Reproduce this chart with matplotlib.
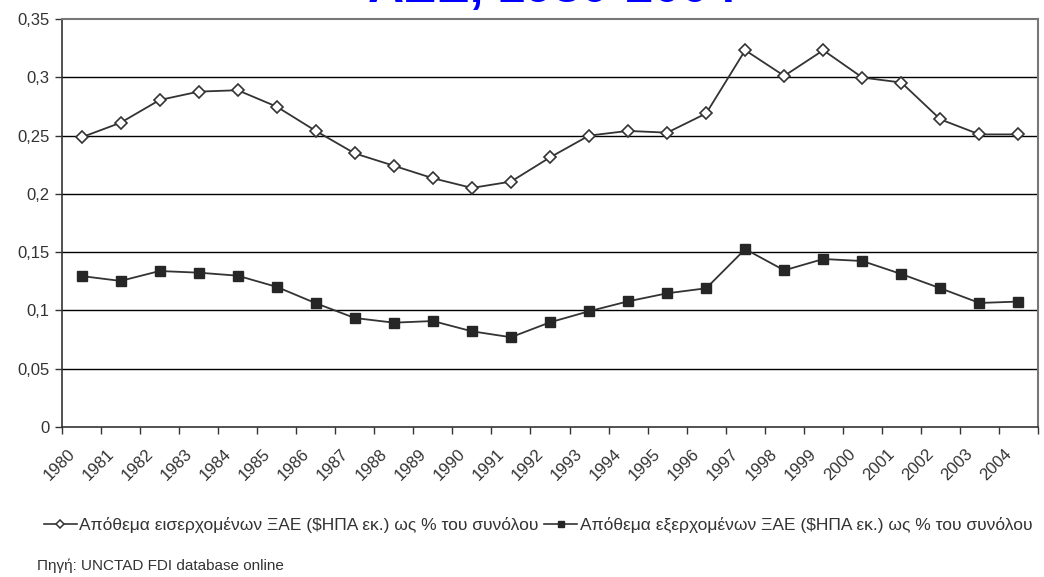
import matplotlib
matplotlib.use("Agg")
import matplotlib.pyplot as plt
from matplotlib.lines import Line2D
import matplotlib.transforms as mtransforms
import numpy as np

years = [str(y) for y in range(1980, 2005)]
inward = [0.2485, 0.261, 0.2805, 0.2877, 0.2889, 0.2748, 0.254, 0.2347, 0.2241,
          0.2134, 0.2051, 0.2105, 0.2313, 0.2500, 0.2540, 0.2525, 0.2690, 0.3232,
          0.3012, 0.3232, 0.2998, 0.2955, 0.2639, 0.2510, 0.2510]
outward = [0.1295, 0.1253, 0.1338, 0.1324, 0.1298, 0.1202, 0.1062, 0.0935, 0.0895,
           0.0909, 0.0821, 0.0770, 0.0898, 0.0993, 0.1078, 0.1147, 0.1190, 0.1526,
           0.1344, 0.1441, 0.1424, 0.1312, 0.1190, 0.1064, 0.1076]
yticks = [0, 0.05, 0.1, 0.15, 0.2, 0.25, 0.3, 0.35]
ytick_labels = ["0", "0,05", "0,1", "0,15", "0,2", "0,25", "0,3", "0,35"]
label_in = "Απόθεμα εισερχομένων ΞΑΕ ($ΗΠΑ εκ.) ως % του συνόλου"
label_out = "Απόθεμα εξερχομένων ΞΑΕ ($ΗΠΑ εκ.) ως % του συνόλου"
title = "ΑΞΕ, 1980-2004"
source = "Πηγή: UNCTAD FDI database online"

plt.rcParams['font.family'] = ['Liberation Sans', 'DejaVu Sans']

W, H = 1044, 577
fig = plt.figure(figsize=(W / 100, H / 100), dpi=100)
ax = fig.add_axes([62 / W, 1 - 427 / H, (1038 - 62) / W, (427 - 19) / H])

x = np.arange(len(years))
line_col = '#333333'
ax.plot(x, inward, color=line_col, lw=1.3, marker='D', ms=6.5,
        mfc='white', mec=line_col, mew=1.2, zorder=3)
ax.plot(x, outward, color=line_col, lw=1.3, marker='s', ms=6.5,
        mfc='#262626', mec='#262626', zorder=3)

ax.set_xlim(-0.5, len(years) - 0.5)
ax.set_ylim(0, 0.35)

for v in yticks[1:-1]:
    ax.axhline(v, color='black', lw=1.0, zorder=1)

ax.set_yticks(yticks)
ax.set_yticklabels(ytick_labels)
ax.tick_params(axis='y', direction='out', length=5, width=1, color='#333333',
               labelsize=12, labelcolor='#333333', pad=4)

ax.set_xticks(np.arange(-0.5, len(years) + 0.5, 1.0))
ax.set_xticklabels([])
ax.tick_params(axis='x', which='major', direction='out', length=5, width=1,
               color='#333333')
ax.set_xticks(x, minor=True)
ax.set_xticklabels(years, minor=True)
ax.tick_params(axis='x', which='minor', length=0, pad=17.5, labelsize=12,
               labelcolor='#333333')
offset = mtransforms.ScaledTranslation(-9 / 100, 0, fig.dpi_scale_trans)
for lab in ax.get_xticklabels(minor=True):
    lab.set_rotation(45)
    lab.set_ha('right')
    lab.set_va('center')
    lab.set_rotation_mode('anchor')
    lab.set_transform(lab.get_transform() + offset)

for s in ['top', 'right']:
    ax.spines[s].set_color('#777777')
    ax.spines[s].set_linewidth(1.5)
for s in ['left', 'bottom']:
    ax.spines[s].set_color('#333333')
    ax.spines[s].set_linewidth(1.2)

fig.text(552 / W, 1 - 1.5 / H, title, color='#0000ff', fontsize=36,
         fontweight='bold', ha='center', va='baseline')

h1 = Line2D([], [], color=line_col, lw=1.2, marker='D', ms=4.5, mfc='white',
            mec=line_col, mew=1.1)
h2 = Line2D([], [], color=line_col, lw=1.2, marker='s', ms=5, mfc='#262626',
            mec='#262626')
fig.legend([h1, h2], [label_in, label_out], loc='center',
           bbox_to_anchor=(538 / W, 1 - 525 / H), ncol=2, frameon=False,
           fontsize=12.5, handlelength=1.9, handletextpad=0.15,
           columnspacing=0.3, labelcolor='#333333', borderpad=0)

fig.text(37 / W, 1 - 566 / H, source, fontsize=11, color='#333333',
         ha='left', va='center')

fig.savefig('out.png', dpi=100)
